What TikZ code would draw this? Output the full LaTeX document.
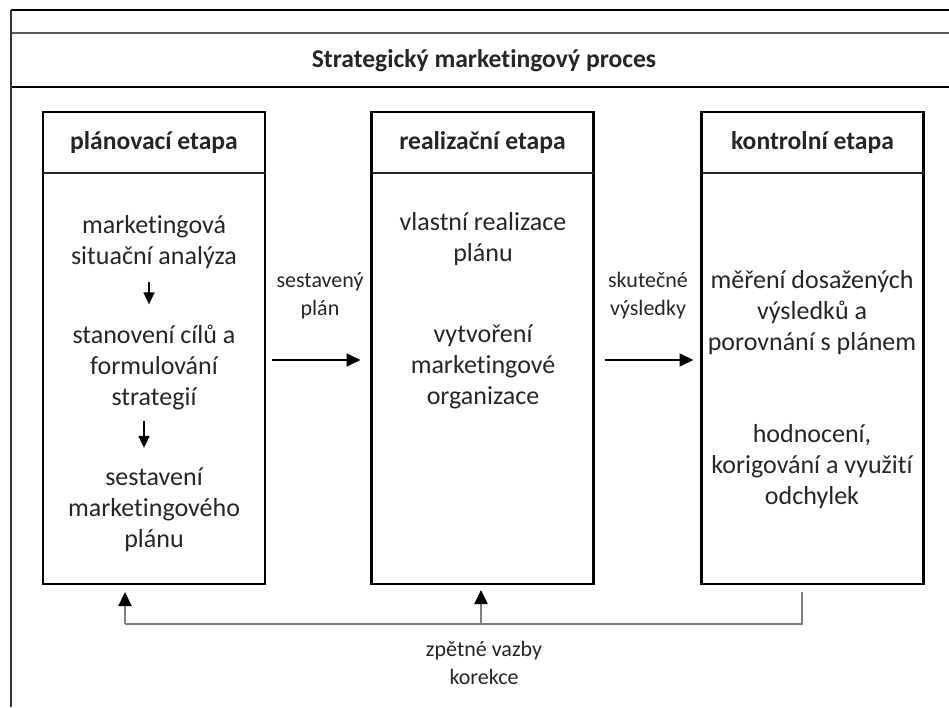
\documentclass[tikz,border=0pt]{standalone}
\usepackage{fontspec}
\setmainfont[Ligatures={NoCommon,NoContextual},RawFeature=-calt]{Carlito}
\usepackage{tikz}
\usetikzlibrary{arrows.meta,positioning,calc}

\begin{document}
\begin{tikzpicture}[
        x=1pt, y=-1pt,
        font=\fontsize{26}{31}\selectfont,
        text=black!85,
        stagehead/.style={rectangle, minimum width=222pt, minimum height=61pt, inner sep=0pt, outer sep=0pt, font=\fontsize{25.6}{31}\selectfont\bfseries},
        stagebody/.style={rectangle, minimum width=222pt, minimum height=411pt, inner sep=0pt, outer sep=0pt},
        stageframe/.style={draw=black, line width=2.6pt},
        divider/.style={draw=black!85, line width=1.6pt},
        stepnote/.style={align=center, inner sep=0pt},
        flowtag/.style={align=center, inner sep=0pt, font=\fontsize{22}{28}\selectfont},
        flow/.style={-{Triangle[length=14pt,width=13pt]}, line width=1.6pt, draw=black},
        substep/.style={-{Triangle[length=12pt,width=11pt]}, line width=1.4pt, draw=black},
        fbline/.style={line width=2.2pt, draw=black!50},
        fbarrow/.style={fbline, -{Triangle[length=14pt,width=13pt,color=black]}}
    ]
        \useasboundingbox (0,0) rectangle (949,707);

        % Outer frame
        \draw[line width=2.4pt] (11,10) -- (949,10);
        \draw[line width=1.6pt, draw=black!65] (11,33) -- (949,33);
        \draw[line width=2.4pt] (11,87) -- (949,87);
        \draw[line width=1.6pt, draw=black!80] (11,10) -- (11,707);
        \node[font=\fontsize{25.6}{31}\selectfont\bfseries] (title) at (484,61) {Strategický marketingový proces};

        % Stages
        \node[stagehead] (planhead) at (154,142.5) {plánovací etapa};
        \node[stagebody, below=0pt of planhead] (planbody) {};
        \draw[stageframe] (planhead.north west) rectangle (planbody.south east);
        \draw[divider] (planhead.south west) -- (planhead.south east);

        \node[stagehead] (realhead) at (482.5,142.5) {realizační etapa};
        \node[stagebody, below=0pt of realhead] (realbody) {};
        \draw[stageframe] (realhead.north west) rectangle (realbody.south east);
        \draw[divider] (realhead.south west) -- (realhead.south east);

        \node[stagehead] (ctrlhead) at (812.5,142.5) {kontrolní etapa};
        \node[stagebody, below=0pt of ctrlhead] (ctrlbody) {};
        \draw[stageframe] (ctrlhead.north west) rectangle (ctrlbody.south east);
        \draw[divider] (ctrlhead.south west) -- (ctrlhead.south east);

        % Steps
        \node[stepnote] (plana) at (154,242) {marketingová\\situační analýza};
        \node[stepnote] (planb) at (154,368) {stanovení cílů a\\formulování\\strategií};
        \node[stepnote] (planc) at (154,510) {sestavení\\marketingového\\plánu};
        \node[stepnote] (reala) at (483,239) {vlastní realizace\\plánu};
        \node[stepnote] (realb) at (483,367) {vytvoření\\marketingové\\organizace};
        \node[stepnote] (ctrla) at (812,313) {měření dosažených\\výsledků a\\porovnání s plánem};
        \node[stepnote] (ctrlb) at (812,467) {hodnocení,\\korigování a využití\\odchylek};

        \draw[substep, shorten <=13pt, shorten >=21pt] ([xshift=-5pt]plana.south) -- ([xshift=-5pt]planb.north);
        \draw[substep, shorten <=10pt, shorten >=20pt] ([xshift=-10pt]planb.south) -- ([xshift=-10pt]planc.north);

        % Flows
        \coordinate (flowrow) at (0,360);
        \node[flowtag] (senttag) at (320,296) {sestavený\\plán};
        \node[flowtag] (resulttag) at (648,296) {skutečné\\výsledky};
        \draw[flow] ($(planbody.east |- flowrow)+(7,0)$) -- ($(realbody.west |- flowrow)+(-11,0)$);
        \draw[flow] ($(realbody.east |- flowrow)+(11,0)$) -- ($(ctrlbody.west |- flowrow)+(-8,0)$);

        % Feedback
        \coordinate (fbl) at (125,624);
        \coordinate (fbm) at (481,624);
        \coordinate (fbr) at (802,624);
        \draw[fbline] ($(fbr |- ctrlbody.south)+(0,8)$) -- (fbr) -- (fbl);
        \draw[fbarrow] (fbl) -- ($(fbl |- planbody.south)+(0,8)$);
        \draw[fbarrow] (fbm) -- ($(fbm |- realbody.south)+(0,6)$);
        \node[flowtag] (fbtag) at (484,663) {zpětné vazby\\korekce};
    \end{tikzpicture}
\end{document}
